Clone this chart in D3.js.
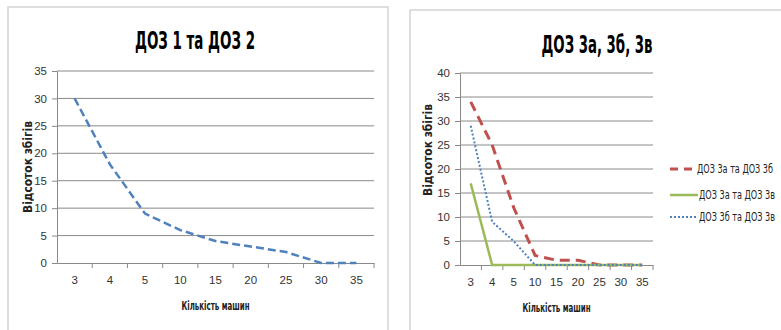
<!DOCTYPE html>
<html>
<head>
<meta charset="utf-8">
<script src="https://cdn.jsdelivr.net/npm/d3@7"></script>
<style>
  body { margin: 0; background: #fff; }
  svg { display: block; font-family: "DejaVu Sans Condensed", "Liberation Sans Narrow", "Liberation Sans", sans-serif; }
  .tick text { fill: #333; font-size: 11.5px; }
  .grid line { stroke: #8a8a8a; }
</style>
</head>
<body>
<script>
// categories on the x axis (number of machines)
var categories = ["3", "4", "5", "10", "15", "20", "25", "30", "35"];

// chart 1: ДОЗ 1 та ДОЗ 2
var doz12 = [30, 18, 9, 6, 4, 3, 2, 0, 0];
var ticks1 = [0, 5, 10, 15, 20, 25, 30, 35];

// chart 2: ДОЗ 3а, 3б, 3в
var doz3a3b = [34, 25, 12, 2, 1, 1, 0, 0, 0];
var doz3a3v = [17, 0, 0, 0, 0, 0, 0, 0, 0];
var doz3b3v = [29, 9, 5, 0, 0, 0, 0, 0, 0];
var ticks2 = [0, 5, 10, 15, 20, 25, 30, 35, 40];
var seriesNames = ["ДОЗ 3а та ДОЗ 3б", "ДОЗ 3а та ДОЗ 3в", "ДОЗ 3б та ДОЗ 3в"];

var width = 781,
    height = 330;

var svg = d3.select("body")
  .append("svg")
  .attr("width", width)
  .attr("height", height);

function drawChart(opt) {
  var g = svg.append("g");

  g.append("rect")
      .attr("x", opt.box[0])
      .attr("y", opt.box[1])
      .attr("width", opt.box[2])
      .attr("height", opt.box[3])
      .attr("fill", "#fff")
      .attr("stroke", "#d4d4d4")
      .attr("stroke-width", 1.5);

  var x = d3.scaleBand()
      .domain(categories)
      .range(opt.xRange);

  var y = d3.scaleLinear()
      .domain([0, d3.max(opt.ticks)])
      .range(opt.yRange);

  // horizontal gridlines
  g.append("g")
      .attr("class", "grid")
    .selectAll("line")
      .data(opt.ticks.slice(1))
    .enter().append("line")
      .attr("x1", opt.xRange[0])
      .attr("x2", opt.xRange[1])
      .attr("y1", function(d) { return y(d); })
      .attr("y2", function(d) { return y(d); });

  // y axis
  var yAxis = g.append("g")
      .attr("transform", "translate(" + opt.xRange[0] + ",0)")
      .call(d3.axisLeft(y).tickValues(opt.ticks).tickSize(5).tickPadding(5));
  yAxis.selectAll("path, line").attr("stroke", "#8a8a8a");

  // x axis, ticks between categories
  var xAxis = g.append("g")
      .attr("transform", "translate(0," + opt.yRange[0] + ")")
      .call(d3.axisBottom(x).tickSize(0).tickPadding(13));
  xAxis.select(".domain").attr("stroke", "#8a8a8a");
  xAxis.append("g")
    .selectAll("line")
      .data(categories)
    .enter().append("line")
      .attr("x1", function(d) { return x(d) + x.bandwidth(); })
      .attr("x2", function(d) { return x(d) + x.bandwidth(); })
      .attr("y1", 0)
      .attr("y2", 5)
      .attr("stroke", "#8a8a8a");

  var line = d3.line()
      .x(function(d, i) { return x(categories[i]) + x.bandwidth() / 2; })
      .y(function(d) { return y(d); });

  opt.series.forEach(function(s) {
    g.append("path")
        .datum(s.values)
        .attr("fill", "none")
        .attr("stroke", s.color)
        .attr("stroke-width", s.width)
        .attr("stroke-dasharray", s.dash)
        .attr("d", line);
  });

  g.append("text")
      .attr("x", opt.titlePos[0])
      .attr("y", opt.titlePos[1])
      .attr("text-anchor", "middle")
      .attr("font-size", 24)
      .attr("font-weight", "bold")
      .attr("fill", "#000")
      .attr("textLength", opt.titleLen)
      .attr("lengthAdjust", "spacingAndGlyphs")
      .text(opt.title);

  g.append("text")
      .attr("x", (opt.xRange[0] + opt.xRange[1]) / 2)
      .attr("y", opt.xTitleY)
      .attr("text-anchor", "middle")
      .attr("font-size", 12)
      .attr("font-weight", "bold")
      .attr("fill", "#222")
      .attr("textLength", 68)
      .attr("lengthAdjust", "spacingAndGlyphs")
      .text("Кількість машин");

  g.append("text")
      .attr("transform", "translate(" + opt.yTitlePos[0] + "," + opt.yTitlePos[1] + ") rotate(-90)")
      .attr("text-anchor", "middle")
      .attr("font-size", 12)
      .attr("font-weight", "bold")
      .attr("fill", "#222")
      .attr("textLength", 92)
      .attr("lengthAdjust", "spacingAndGlyphs")
      .text("Відсоток збігів");

  return g;
}

drawChart({
  box: [8, 7, 380, 330],
  xRange: [57, 374],
  yRange: [263, 71],
  ticks: ticks1,
  title: "ДОЗ 1 та ДОЗ 2",
  titleLen: 120,
  titlePos: [195, 49],
  xTitleY: 310,
  yTitlePos: [32, 167],
  series: [
    { values: doz12, color: "#4f81bd", width: 2.5, dash: "8,4" }
  ]
});

var colors2 = ["#c0504d", "#9bbb59", "#4f81bd"];
var dashes2 = ["10,6", null, "2,2"];
var widths2 = [3, 2.5, 2];

var g2 = drawChart({
  box: [410, 10, 400, 330],
  xRange: [460, 653],
  yRange: [265, 73],
  ticks: ticks2,
  title: "ДОЗ 3а, 3б, 3в",
  titleLen: 111,
  titlePos: [597, 53],
  xTitleY: 312,
  yTitlePos: [432, 150],
  series: [doz3a3b, doz3a3v, doz3b3v].map(function(v, i) {
    return { values: v, color: colors2[i], width: widths2[i], dash: dashes2[i] };
  })
});

// legend
var legend = g2.append("g")
    .attr("transform", "translate(670,169)");
var item = legend.selectAll("g")
    .data(seriesNames)
  .enter().append("g")
    .attr("transform", function(d, i) { return "translate(0," + [0, 26, 48][i] + ")"; });
item.append("line")
    .attr("x1", 0)
    .attr("x2", function(d, i) { return [22, 28, 26][i]; })
    .attr("stroke", function(d, i) { return colors2[i]; })
    .attr("stroke-width", function(d, i) { return widths2[i]; })
    .attr("stroke-dasharray", function(d, i) { return i === 0 ? "8,6" : dashes2[i]; });
item.append("text")
    .attr("x", function(d, i) { return i === 0 ? 27 : 29; })
    .attr("dy", "0.35em")
    .attr("font-size", 12)
    .attr("fill", "#222")
    .attr("textLength", 76)
    .attr("lengthAdjust", "spacingAndGlyphs")
    .text(function(d) { return d; });
</script>
</body>
</html>
